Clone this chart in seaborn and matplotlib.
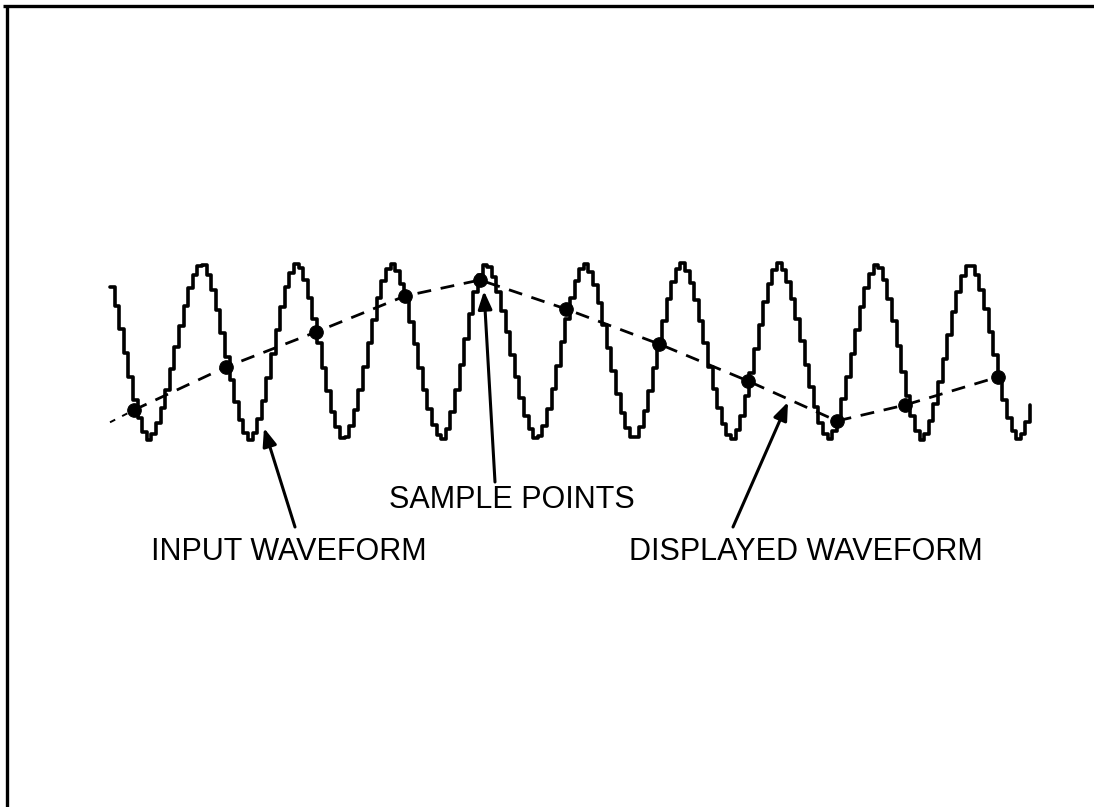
import numpy as np
import pandas as pd
import matplotlib
matplotlib.use("Agg")
import matplotlib.pyplot as plt
import seaborn as sns

# ---- data (time in arbitrary units, amplitude normalised to +/-1) ----
# extremes (alternating peaks / troughs) of the input waveform
extreme_t = [100, 147, 200, 248, 295, 342, 390, 440, 484, 535, 583,
             632, 680, 730, 777, 827, 875, 920, 968, 1017, 1065]
extreme_v = [1, -1, 1, -1, 1, -1, 1, -1, 1, -1, 1,
             -1, 1, -1, 1, -1, 1, -1, 1, -1, 1]
wave_start, wave_end = 110, 1030
hold_step = 4.6  # sample-and-hold step width of the staircase

# sample points (displayed waveform)
sample_t = [134, 226, 316, 405, 480, 566, 659, 748, 837, 905, 998]
sample_v = [-0.661, -0.175, 0.220, 0.627, 0.808, 0.480, 0.085, -0.333,
            -0.785, -0.605, -0.288]
lead_t = [110, 134]
lead_v = [-0.80, -0.661]

labels = ["INPUT WAVEFORM", "SAMPLE POINTS", "DISPLAYED WAVEFORM"]

# ---- build staircase input waveform (half-cosine between read extremes) ----
ts = np.arange(wave_start, wave_end + hold_step, hold_step)
vs = []
for t in ts:
    i = np.searchsorted(extreme_t, t, side="right") - 1
    i = min(max(i, 0), len(extreme_t) - 2)
    t0, t1 = extreme_t[i], extreme_t[i + 1]
    v0, v1 = extreme_v[i], extreme_v[i + 1]
    f = (t - t0) / (t1 - t0)
    shape = 0.75 * (1 - np.cos(np.pi * f)) / 2 + 0.25 * f
    vs.append(v0 + (v1 - v0) * shape)
wave = pd.DataFrame({"t": ts, "v": vs})
samples = pd.DataFrame({"t": sample_t, "v": sample_v})
lead = pd.DataFrame({"t": lead_t, "v": lead_v})

# ---- figure ----
sns.set_theme(style="white")
plt.rcParams["font.family"] = ["Liberation Sans", "DejaVu Sans"]
plt.rcParams["text.color"] = "black"

W, H = 1094, 807
fig = plt.figure(figsize=(W / 100, H / 100), dpi=100)
ax = fig.add_axes([0, 0, 1, 1])
Y0, S = 351.5, 88.5


def py(p):
    return (Y0 - p) / S


ax.set_xlim(0, W)
ax.set_ylim(py(H), py(0))
ax.axis("off")

# frame (top and left edges)
ax.plot([3, W], [py(6), py(6)], color="black", lw=2.4, solid_capstyle="butt")
ax.plot([7, 7], [py(5), py(H)], color="black", lw=2.4, solid_capstyle="butt")

# input waveform
sns.lineplot(data=wave, x="t", y="v", ax=ax, color="black", lw=2.6,
             drawstyle="steps-post", estimator=None, sort=False)

# displayed waveform (dashed) + sample points
sns.lineplot(data=lead, x="t", y="v", ax=ax, color="black", lw=1.4,
             linestyle=(0, (3, 4)), estimator=None, sort=False)
sns.lineplot(data=samples, x="t", y="v", ax=ax, color="black", lw=2.0,
             linestyle=(0, (5, 3.5)), estimator=None, sort=False)
sns.scatterplot(data=samples, x="t", y="v", ax=ax, color="black", s=95,
                edgecolor="black", zorder=5)

# labels
for txt, x, base in zip(labels, [289, 512, 806], [560, 508, 560]):
    ax.text(x, py(base), txt, ha="center", va="baseline", fontsize=22,
            color="black")

arrow = dict(arrowstyle="-|>,head_length=0.9,head_width=0.35", color="black",
             lw=2.2, shrinkA=0, shrinkB=0)
ax.annotate("", xy=(264, py(428)), xytext=(295, py(527)), arrowprops=arrow)
ax.annotate("", xy=(484, py(291)), xytext=(495, py(482)), arrowprops=arrow)
ax.annotate("", xy=(788, py(402)), xytext=(733, py(527)), arrowprops=arrow)

ax.set_xlabel("")
ax.set_ylabel("")
fig.savefig("out.png", dpi=100, facecolor="white")
